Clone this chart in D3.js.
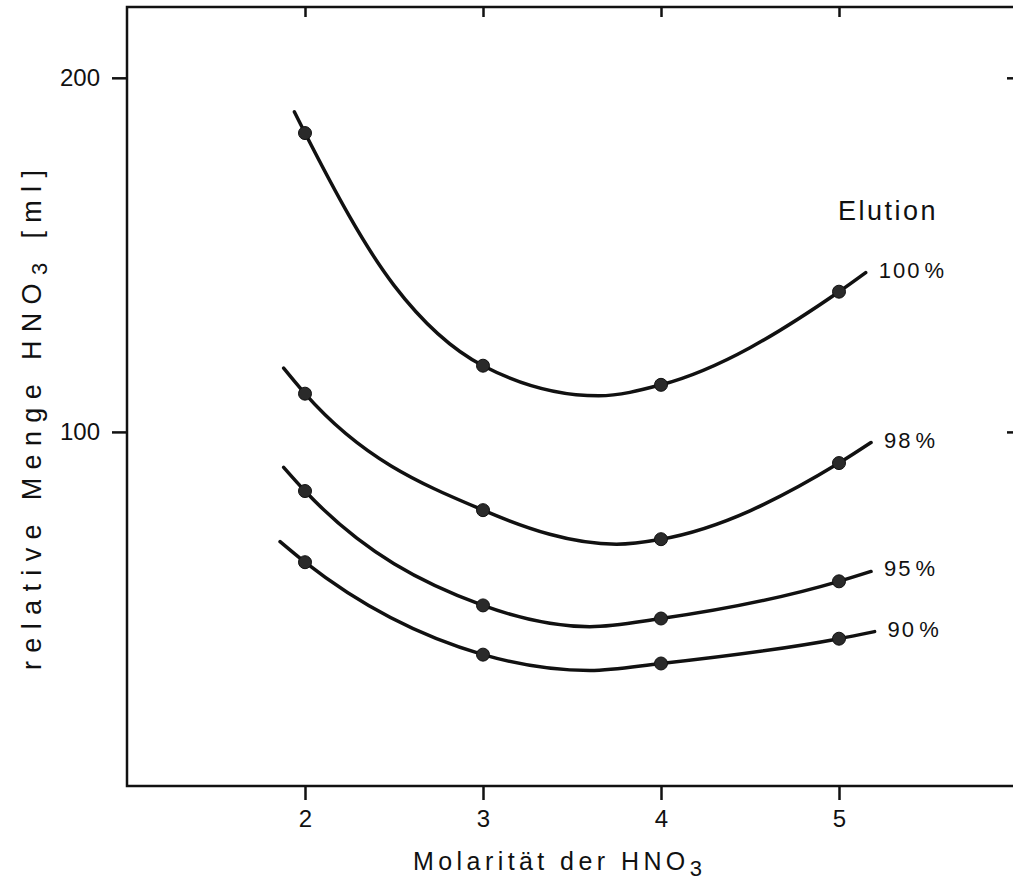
<!DOCTYPE html>
<html>
<head>
<meta charset="utf-8">
<script src="https://cdn.jsdelivr.net/npm/d3@7/dist/d3.min.js"></script>
<style>
  body { margin: 0; background: #fff; }
  svg text { font-family: "Liberation Sans", "DejaVu Sans", sans-serif; fill: #111; }
</style>
</head>
<body>
<div id="chart"></div>
<script>
// measured points (Molarität, relative Menge)
var molarity = [2, 3, 4, 5]
var elution100 = [184.4, 118.7, 113.3, 139.6]
var elution98 = [110.8, 77.9, 69.7, 91.2]
var elution95 = [83.3, 51.0, 47.3, 57.8]
var elution90 = [63.2, 37.1, 34.6, 41.6]

// hand-drawn curve through the points
var curve100 = [[1.94, 190.4], [2, 184.4], [2.5, 141.4], [3, 118.7], [3.65, 110.2], [4, 113.3], [5, 139.6], [5.15, 145]]
var curve98 = [[1.88, 118], [2, 110.8], [3, 77.9], [3.75, 68.3], [4, 69.7], [5, 91.2], [5.18, 97]]
var curve95 = [[1.88, 90], [2, 83.3], [3, 51.0], [3.6, 45.0], [4, 47.3], [5, 57.8], [5.18, 60.6]]
var curve90 = [[1.86, 69], [2, 63.2], [3, 37.1], [3.6, 32.6], [4, 34.6], [5, 41.6], [5.2, 43.6]]

var seriesLabels = ["100 %", "98 %", "95 %", "90 %"]
var xTicks = [2, 3, 4, 5]
var yTicks = [100, 200]

var width = 1013, height = 882

var svg = d3.select("#chart").append("svg")
            .attr("width", width)
            .attr("height", height)

//scales: x 1..6 so the right border falls just off the page
var x = d3.scaleLinear().domain([1, 6]).range([127, 1017])
var y = d3.scaleLinear().domain([0, 220]).range([786, 7])

//frame
svg.append("rect")
   .attr("x", x(1))
   .attr("y", y(220))
   .attr("width", x(6) - x(1))
   .attr("height", y(0) - y(220))
   .style("fill", "none")
   .style("stroke", "#111")
   .style("stroke-width", 2.5)

//left axis, ticks outward
var leftAxis = svg.append("g")
   .attr("transform", `translate(${x(1)},0)`)
   .call(d3.axisLeft(y).tickValues(yTicks).tickSize(15).tickPadding(12).tickFormat(d3.format("d")))
leftAxis.select(".domain").remove()
leftAxis.selectAll("line").style("stroke", "#111").style("stroke-width", 2.5)
leftAxis.selectAll("text").style("font-size", "24px").attr("fill", "#111")

//right axis, ticks inward
var rightAxis = svg.append("g")
   .attr("transform", `translate(${x(6)},0)`)
   .call(d3.axisLeft(y).tickValues(yTicks).tickSize(10).tickFormat(""))
rightAxis.select(".domain").remove()
rightAxis.selectAll("line").attr("x2", -10).style("stroke", "#111").style("stroke-width", 2.5)

//bottom axis, ticks outward
var bottomAxis = svg.append("g")
   .attr("transform", `translate(0,${y(0)})`)
   .call(d3.axisBottom(x).tickValues(xTicks).tickSize(14).tickPadding(10).tickFormat(d3.format("d")))
bottomAxis.select(".domain").remove()
bottomAxis.selectAll("line").style("stroke", "#111").style("stroke-width", 2.5)
bottomAxis.selectAll("text").style("font-size", "24px").attr("fill", "#111")

//top axis, ticks inward
var topAxis = svg.append("g")
   .attr("transform", `translate(0,${y(220)})`)
   .call(d3.axisTop(x).tickValues(xTicks).tickSize(-10).tickFormat(""))
topAxis.select(".domain").remove()
topAxis.selectAll("line").style("stroke", "#111").style("stroke-width", 2.5)

//curves
var line = d3.line()
             .x(function(d){ return x(d[0]) })
             .y(function(d){ return y(d[1]) })
             .curve(d3.curveMonotoneX)

var curves = [curve100, curve98, curve95, curve90]
var values = [elution100, elution98, elution95, elution90]

svg.append("g").selectAll("path")
   .data(curves)
   .enter()
   .append("path")
   .attr("d", line)
   .style("fill", "none")
   .style("stroke", "#111")
   .style("stroke-width", 3.5)
   .style("stroke-linecap", "round")

//points
values.forEach(function(vals){
  svg.append("g").selectAll("circle")
     .data(vals)
     .enter()
     .append("circle")
     .attr("cx", function(d, i){ return x(molarity[i]) })
     .attr("cy", function(d){ return y(d) })
     .attr("r", 6.5)
     .style("fill", "#2a2a2a")
     .style("stroke", "#111")
     .style("stroke-width", 1)
})

//series labels next to curve ends
svg.append("g").selectAll("text")
   .data(curves)
   .enter()
   .append("text")
   .attr("x", function(d){ return x(d[d.length-1][0]) + 13 })
   .attr("y", function(d){ return y(d[d.length-1][1]) + 5 })
   .text(function(d, i){ return seriesLabels[i] })
   .style("font-size", "22px")
   .style("letter-spacing", "2px")
   .style("word-spacing", "-5px")

svg.append("text")
   .attr("x", 838)
   .attr("y", 220)
   .text("Elution")
   .style("font-size", "27px")
   .style("letter-spacing", "2.5px")

//axis titles
var xTitle = svg.append("text")
   .attr("x", 413)
   .attr("y", 870)
   .attr("textLength", 289)
   .attr("lengthAdjust", "spacing")
   .style("font-size", "25px")
xTitle.append("tspan").text("Molarität der HNO")
xTitle.append("tspan").text("3").attr("dy", 6).style("font-size", "22px")

var yTitle = svg.append("text")
   .attr("transform", "translate(41,670) rotate(-90)")
   .attr("x", 0)
   .attr("y", 0)
   .attr("textLength", 500)
   .attr("lengthAdjust", "spacing")
   .style("font-size", "27px")
yTitle.append("tspan").text("relative Menge HNO")
yTitle.append("tspan").text("3").attr("dy", 6).style("font-size", "22px")
yTitle.append("tspan").text(" [ml]").attr("dy", -6)
</script>
</body>
</html>
